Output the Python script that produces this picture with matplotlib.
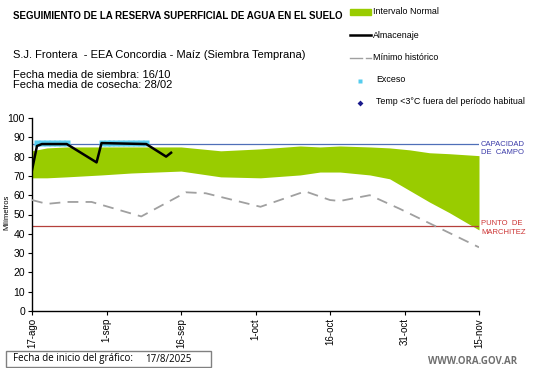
import matplotlib
matplotlib.use("Agg")
import matplotlib.pyplot as plt
from matplotlib.patches import Rectangle
from matplotlib.lines import Line2D

# ---- data (days since 17-ago-2025) ----
band_days = [0, 3, 7, 14, 20, 30, 38, 46, 54, 58, 62, 68, 72, 76, 80, 84, 90]
band_upper = [83, 84.5, 85, 85, 85, 85, 83, 84, 85.5, 85, 85.5, 85, 84.5, 83.5, 82, 81.5, 80.5]
band_lower = [69, 69, 69.5, 70.5, 71.5, 72.5, 69.5, 69, 70.5, 72, 72, 70.5, 68.5, 62.5, 56.5, 51, 42]

alm_days = [0, 1, 2, 7, 13, 14, 23, 27, 28]
alm_vals = [73, 85.5, 86.5, 86.5, 77, 87, 86.5, 80, 82]

min_days = [0, 3, 7, 12, 22, 31, 35, 46, 55, 60, 62, 68, 74, 90]
min_vals = [57.5, 55.5, 56.5, 56.5, 49, 61.5, 61, 54, 62, 57.5, 57, 60, 53, 33]

exceso_days = [1, 2, 3, 4, 5, 6, 7, 14, 15, 16, 17, 18, 19, 20, 21, 22, 23]
exceso_vals = [87] * len(exceso_days)

capacidad = 86.5
marchitez = 44

tick_days = [0, 15, 30, 45, 60, 75, 90]
tick_labels = ["17-ago", "1-sep", "16-sep", "1-oct", "16-oct", "31-oct", "15-nov"]
y_ticks = list(range(0, 101, 10))

plt.rcParams['font.family'] = ['Liberation Sans', 'DejaVu Sans']

W, H = 541, 368
fig = plt.figure(figsize=(W / 100, H / 100), dpi=100)
ax = fig.add_axes([32 / W, 1 - 311 / H, (479 - 32) / W, (311 - 118) / H])

green = '#99cc00'
ax.fill_between(band_days, band_lower, band_upper, color=green, linewidth=0, zorder=1)
ax.axhline(capacidad, color='#4f6fb8', lw=0.9, zorder=2)
ax.axhline(marchitez, color='#b5403c', lw=0.9, zorder=2)
ax.plot(min_days, min_vals, color='#a0a0a0', lw=1.3, dashes=(6, 4), zorder=3)
ax.plot(exceso_days, exceso_vals, linestyle='none', marker='s', ms=4.2,
        color='#55ccee', mec='none', zorder=4)
ax.plot(alm_days, alm_vals, color='black', lw=1.8, zorder=5)

ax.set_xlim(0, 90)
ax.set_ylim(0, 100)
ax.set_xticks(tick_days)
ax.set_xticklabels(tick_labels, rotation=90, fontsize=7)
ax.set_yticks(y_ticks)
ax.set_yticklabels([str(v) for v in y_ticks], fontsize=7.5)
ax.tick_params(direction='out', length=3, width=0.8, pad=2)
for s in ['top', 'right']:
    ax.spines[s].set_visible(False)
for s in ['left', 'bottom']:
    ax.spines[s].set_linewidth(1.0)
fig.text(7 / W, 1 - 212 / H, 'Milímetros', fontsize=5.5, rotation=90, va='center', ha='center')

# right-side labels
fig.text(481 / W, 1 - 148.5 / H, 'CAPACIDAD\nDE  CAMPO', color='#3a3aa8', fontsize=5.5,
         va='center', ha='left', linespacing=1.3)
fig.text(481 / W, 1 - 228 / H, 'PUNTO  DE\nMARCHITEZ', color='#cc3333', fontsize=5.5,
         va='center', ha='left', linespacing=1.3)

# titles
fig.text(13 / W, 1 - 16 / H, 'SEGUIMIENTO DE LA RESERVA SUPERFICIAL DE AGUA EN EL SUELO',
         fontsize=7.0, fontweight='bold', va='center', ha='left')
fig.text(13 / W, 1 - 55 / H, 'S.J. Frontera  - EEA Concordia - Maíz (Siembra Temprana)',
         fontsize=8.0, va='center', ha='left')
fig.text(13 / W, 1 - 74.5 / H, 'Fecha media de siembra: 16/10', fontsize=8.0, va='center', ha='left')
fig.text(13 / W, 1 - 85.5 / H, 'Fecha media de cosecha: 28/02', fontsize=8.0, va='center', ha='left')

# manual legend
lx0, lx1, tx = 350, 371, 373
lfs = 6.4
fig.patches.append(Rectangle((lx0 / W, 1 - 15 / H), (lx1 - lx0) / W, 6 / H,
                             transform=fig.transFigure, color=green))
fig.text(tx / W, 1 - 12 / H, 'Intervalo Normal', fontsize=lfs, va='center', ha='left')
fig.lines.append(Line2D([lx0 / W, lx1 / W], [1 - 34.5 / H, 1 - 34.5 / H],
                        transform=fig.transFigure, color='black', lw=1.8))
fig.text(tx / W, 1 - 35 / H, 'Almacenaje', fontsize=lfs, va='center', ha='left')
fig.lines.append(Line2D([lx0 / W, 362 / W], [1 - 57.5 / H, 1 - 57.5 / H],
                        transform=fig.transFigure, color='#a0a0a0', lw=1.0))
fig.lines.append(Line2D([366 / W, lx1 / W], [1 - 57.5 / H, 1 - 57.5 / H],
                        transform=fig.transFigure, color='#a0a0a0', lw=1.0))
fig.text(tx / W, 1 - 57.5 / H, 'Mínimo histórico', fontsize=lfs, va='center', ha='left')
fig.lines.append(Line2D([360 / W], [1 - 80.5 / H], transform=fig.transFigure,
                        marker='s', ms=2.2, color='#55ccee', mec='none', linestyle='none'))
fig.text(376 / W, 1 - 80 / H, 'Exceso', fontsize=lfs, va='center', ha='left')
fig.lines.append(Line2D([360 / W], [1 - 102.5 / H], transform=fig.transFigure,
                        marker='D', ms=3, color='#1a1a8c', mec='none', linestyle='none'))
fig.text(376 / W, 1 - 102 / H, 'Temp <3°C fuera del período habitual', fontsize=lfs,
         va='center', ha='left')

# bottom box
fig.patches.append(Rectangle((6 / W, 1 - 367 / H), 205 / W, 16 / H, transform=fig.transFigure,
                             fill=False, edgecolor='#808080', lw=1.0))
fig.text(13 / W, 1 - 359 / H, 'Fecha de inicio del gráfico:', fontsize=7, va='center', ha='left',
         family=['Open Sans', 'DejaVu Sans'])
fig.text(145 / W, 1 - 359 / H, '17/8/2025', fontsize=7, va='center', ha='left',
         family=['Open Sans', 'DejaVu Sans'])
fig.text(517 / W, 1 - 361 / H, 'WWW.ORA.GOV.AR', fontsize=7.0, color='#707070',
         fontweight='bold', va='center', ha='right', family=['Open Sans', 'DejaVu Sans'])

fig.savefig('out.png', dpi=100)
